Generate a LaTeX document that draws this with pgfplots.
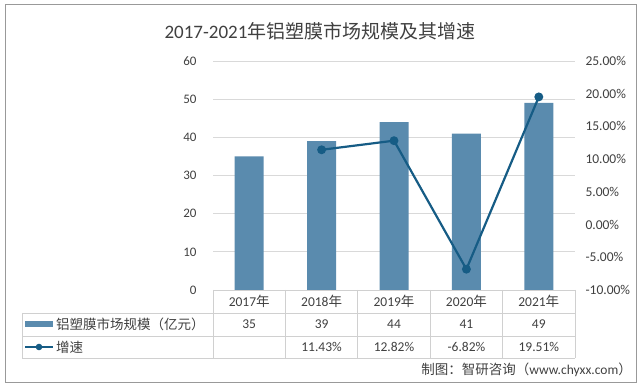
\documentclass[border=0pt]{standalone}
\usepackage{fontspec}
\setmainfont{Carlito}
\newfontfamily\cjk{Noto Sans CJK SC}
\usepackage{pgfplots}
\pgfplotsset{compat=1.18}
\definecolor{barc}{HTML}{5A8BAE}
\definecolor{linec}{HTML}{165C85}
\definecolor{gridc}{HTML}{D9D9D9}
\definecolor{txt}{HTML}{404040}
\definecolor{tabc}{HTML}{D0D0D0}
\begin{document}
\begin{tikzpicture}[x=1pt,y=1pt]
\path (0,0) rectangle (640,388);
\draw[color=black!40, line width=1pt] (5,5) rectangle (636,383);
\node[font=\fontsize{19}{22}\selectfont, text=txt] at (320,357) {2017-2021{\cjk 年铝塑膜市场规模及其增速}};

\begin{axis}[at={(213pt,98pt)}, anchor=south west, scale only axis,
  width=362pt, height=229pt,
  xmin=-0.5, xmax=4.5, ymin=0, ymax=60, ytick={0,10,...,60}, xtick=\empty,
  axis line style={draw=none}, ymajorgrids, grid style={gridc, line width=0.8pt},
  major tick length=0pt,
  /pgf/number format/assume math mode=true,
  yticklabel style={font=\fontsize{13}{15}\selectfont, text=txt, xshift=-13pt},
  clip=false]
\addplot[ybar, bar width=29pt, fill=barc, draw=none] coordinates {(0,35) (1,39) (2,44) (3,41) (4,49)};
\end{axis}

\begin{axis}[at={(213pt,98pt)}, anchor=south west, scale only axis,
  width=362pt, height=229pt,
  xmin=-0.5, xmax=4.5, ymin=-10, ymax=25, ytick={-10,-5,...,25},
  axis x line=none, axis y line*=right,
  axis line style={draw=none}, major tick length=0pt,
  /pgf/number format/assume math mode=true,
  yticklabel={\pgfmathprintnumber[fixed,fixed zerofill,precision=2]{\tick}\%},
  yticklabel style={font=\fontsize{13.5}{15}\selectfont, text=txt, anchor=west, xshift=7pt},
  clip=false]
\addplot[linec, line width=2.2pt, mark=*, mark size=3.3pt, mark options={fill=linec, draw=linec}] coordinates {(1,11.43) (2,12.82) (3,-6.82) (4,19.51)};
\end{axis}

% data table
\begin{scope}[tabc, line width=0.8pt]
\draw (213,98) -- (575,98);
\draw (22,75) -- (575,75);
\draw (22,52) -- (575,52);
\draw (22,30) -- (575,30);
\draw (22,75) -- (22,30);
\foreach \x in {213,285.4,357.8,430.2,502.6,575} {\draw (\x,98) -- (\x,30);}
\end{scope}
\begin{scope}[font=\fontsize{13.5}{15}\selectfont, text=txt]
\foreach \x/\yr/\v/\g in {249.2/2017/35/, 321.6/2018/39/11.43\%, 394/2019/44/12.82\%, 466.4/2020/41/-6.82\%, 538.8/2021/49/19.51\%} {
  \node at (\x,87) {\yr{\cjk 年}};
  \node at (\x,63.5) {\v};
  \node at (\x,41) {\g};
}
\fill[barc] (25,60.5) rectangle (53,66.5);
\node[anchor=west, inner sep=0pt] at (56,63.5) {\cjk 铝塑膜市场规模（亿元）};
\draw[linec, line width=2pt] (25,41) -- (53,41);
\fill[linec] (39,41) circle (3.3);
\node[anchor=west, inner sep=0pt] at (56,41) {\cjk 增速};
\node[anchor=east, inner sep=0pt] at (632,18) {{\cjk 制图：智研咨询（}www.chyxx.com{\cjk ）}};
\end{scope}
\end{tikzpicture}
\end{document}
